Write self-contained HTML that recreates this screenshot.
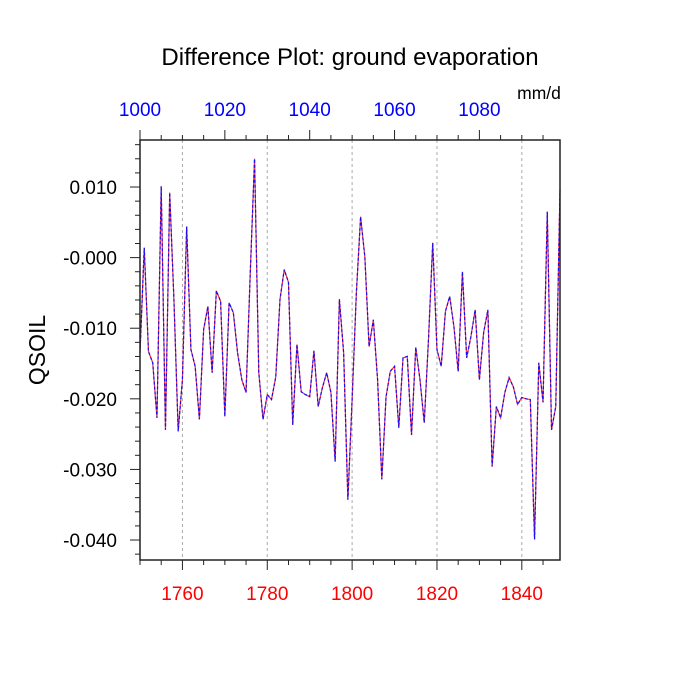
<!DOCTYPE html>
<html><head><meta charset="utf-8"><style>
html,body{margin:0;padding:0;background:#fff;}
svg{display:block;font-family:"Liberation Sans",Arial,sans-serif;}
</style></head><body>
<svg id="chart" width="700" height="700" viewBox="0 0 700 700">
<rect x="0" y="0" width="700" height="700" fill="#fff"/>
<text x="350" y="65" text-anchor="middle" font-size="24" fill="#000">Difference Plot: ground evaporation</text>
<text x="539" y="99" text-anchor="middle" font-size="17.5" fill="#000">mm/d</text>
<text transform="translate(45,350) rotate(-90)" text-anchor="middle" font-size="23" fill="#000">QSOIL</text>
<g id="grid"></g>
<g id="series"></g>
<g id="axes"></g>
</svg>
<script>
const years = [];
for (let y = 1750; y <= 1849; y++) years.push(y);
const valuesMilli = [-13.5,1.4,-13.3,-14.9,-22.7,10.1,-24.4,9.2,-6,-24.6,
-17.3,4.4,-13.0,-15.4,-22.9,-10.2,-6.9,-16.3,-4.7,-6.2,
-22.5,-6.4,-7.8,-13.5,-17.3,-19.1,-2.0,14.0,-16.3,-22.9,
-19.4,-20.1,-16.9,-5.9,-1.7,-3.5,-23.7,-12.3,-19.0,-19.4,
-19.7,-13.2,-21.1,-18.4,-16.3,-19.1,-28.9,-5.9,-13.5,-34.3,
-20.1,-5.0,5.8,0.1,-12.6,-8.8,-17.3,-31.4,-19.7,-16.1,
-15.4,-24.1,-14.2,-14.0,-25.1,-12.7,-17.3,-23.4,-11.6,2.1,
-13.0,-15.4,-7.6,-5.5,-9.8,-16.1,-2.0,-14.2,-11.2,-7.4,
-17.3,-10.6,-7.4,-29.6,-21.1,-22.7,-19.1,-17.0,-18.3,-20.8,
-19.8,-20.0,-20.1,-39.9,-14.9,-20.5,6.5,-24.4,-21.1,9.6];
const values = valuesMilli.map(v => v / 1000);
const yTicks = [0.010, 0.000, -0.010, -0.020, -0.030, -0.040];
const yTickLabels = ["0.010", "-0.000", "-0.010", "-0.020", "-0.030", "-0.040"];
const xTicksBottom = [1760, 1780, 1800, 1820, 1840];
const xTicksTop = [1000, 1020, 1040, 1060, 1080];

const L = 140, R = 560, T = 140, B = 560;
const xMin = 1750, xMax = 1849;
const yMin = -0.04283, yMax = 0.01666;
const sx = v => L + (v - xMin) / (xMax - xMin) * (R - L);
const sxTop = v => sx(v - 1000 + 1750);
const sy = v => B - (v - yMin) / (yMax - yMin) * (B - T);
const NS = "http://www.w3.org/2000/svg";
function mk(tag, attrs, parent) {
  const e = document.createElementNS(NS, tag);
  for (const k in attrs) e.setAttribute(k, attrs[k]);
  parent.appendChild(e);
  return e;
}
const grid = document.getElementById('grid');
const axes = document.getElementById('axes');
const series = document.getElementById('series');

for (let yr = 1760; yr <= 1840; yr += 20) {
  const g = mk('line', {x1: sx(yr), x2: sx(yr), y1: T, y2: B, stroke: '#aaa', 'stroke-width': 1, 'stroke-dasharray': '3,3'}, grid);
  
  
}

const pts = years.map((yr, i) => sx(yr).toFixed(2) + ',' + sy(values[i]).toFixed(2)).join(' ');
const redLine = mk('polyline', {points: pts, fill: 'none', stroke: '#ff3030', 'stroke-width': 1.2}, series);


const blueLine = mk('polyline', {points: pts, fill: 'none', stroke: '#1010ff', 'stroke-width': 1.2, 'stroke-dasharray': '3,2'}, series);



const frame = mk('rect', {x: L, y: T, width: R - L, height: B - T, fill: 'none', stroke: '#222', 'stroke-width': 1.5}, axes);



for (let k = -21; k <= 8; k++) {
  const v = k * 0.002;
  if (v < yMin || v > yMax) continue;
  const major = k % 5 === 0;
  const t = mk('line', {x1: L, x2: L - (major ? 10 : 5), y1: sy(v), y2: sy(v), stroke: '#222', 'stroke-width': 1}, axes);
  
  
}
yTicks.forEach((v, i) => {
  const t = mk('text', {x: L - 23, y: sy(v) + 7, 'text-anchor': 'end', 'font-size': 19, fill: '#000'}, axes);
  t.textContent = yTickLabels[i];
  
  
});
for (let yr = 1750; yr <= 1849; yr += 5) {
  const major = yr % 20 === 0;
  const b = mk('line', {x1: sx(yr), x2: sx(yr), y1: B, y2: B + (major ? 10 : 5), stroke: '#222', 'stroke-width': 1}, axes);
  
  
  const topMajor = (yr - 1750) % 20 === 0;
  const t = mk('line', {x1: sx(yr), x2: sx(yr), y1: T, y2: T - (topMajor ? 10 : 5), stroke: '#222', 'stroke-width': 1}, axes);
  
  
}
xTicksBottom.forEach(v => {
  const t = mk('text', {x: sx(v), y: B + 40, 'text-anchor': 'middle', 'font-size': 19, fill: '#ff0000'}, axes);
  t.textContent = String(v);
  
  
});
xTicksTop.forEach(v => {
  const t = mk('text', {x: sxTop(v), y: T - 24, 'text-anchor': 'middle', 'font-size': 19, fill: '#0000ff'}, axes);
  t.textContent = String(v);
  
  
});
</script>
</body></html>
